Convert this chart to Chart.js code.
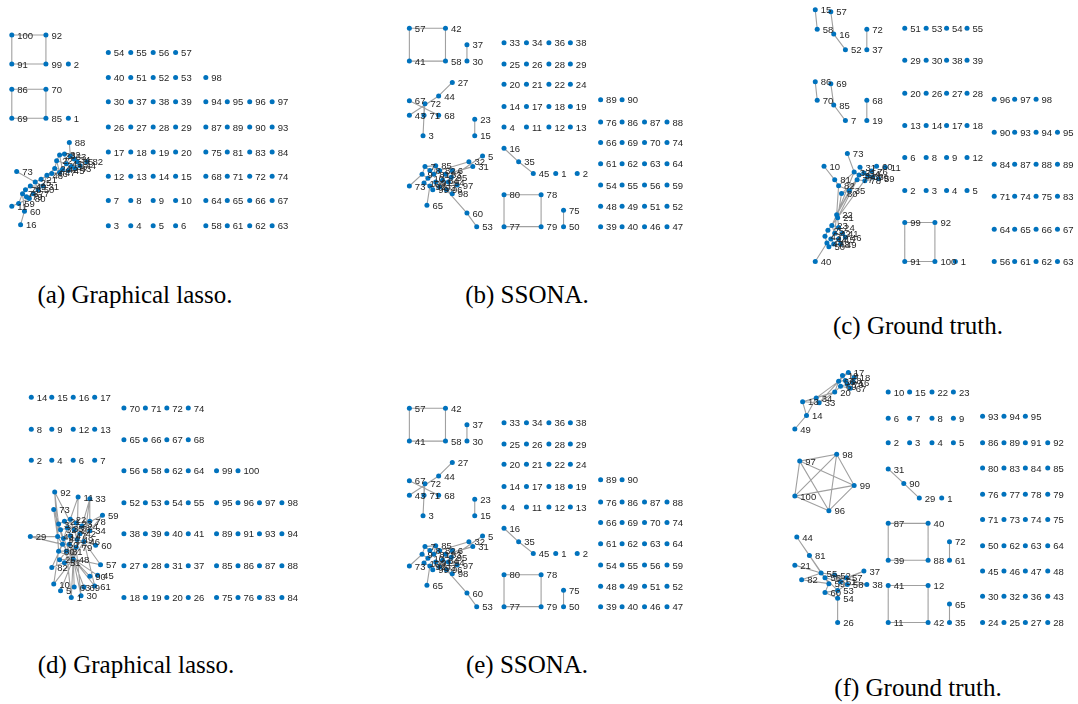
<!DOCTYPE html>
<html>
<head>
<meta charset="utf-8">
<script src="https://cdn.jsdelivr.net/npm/chart.js@4.4.0/dist/chart.umd.min.js"></script>
<style>
  body { margin: 0; background: #fff; width: 1078px; height: 704px; position: relative; overflow: hidden; }
  canvas { position: absolute; }
  .cap { position: absolute; font-family: "Liberation Serif", "Times New Roman", serif; font-size: 25px; color: #000; white-space: nowrap; transform: translate(-50%, -50%); }
</style>
</head>
<body>
<canvas id="pa"></canvas><canvas id="pb"></canvas><canvas id="pc"></canvas>
<canvas id="pd"></canvas><canvas id="pe"></canvas><canvas id="pf"></canvas>
<div class="cap" style="left:135px;top:295px">(a) Graphical lasso.</div>
<div class="cap" style="left:527px;top:295px">(b) SSONA.</div>
<div class="cap" style="left:918px;top:326px">(c) Ground truth.</div>
<div class="cap" style="left:136px;top:665px">(d) Graphical lasso.</div>
<div class="cap" style="left:527px;top:665px">(e) SSONA.</div>
<div class="cap" style="left:918px;top:688px">(f) Ground truth.</div>
<script>
// graph layouts: grid blocks (ids per row, column x, row y) + free nodes [id, x, y] + edges [a, b]

// (a) graphical lasso, setting 1
const aGrid1Ids = [[54,55,56,57],[40,51,52,53],[30,37,38,39],[26,27,28,29],[17,18,19,20],[12,13,14,15],[7,8,9,10],[3,4,5,6]];
const aGrid1X = [107,130,153,176];
const aGrid1Y = [50,76,101,127,153,178,203,229];
const aGrid2Ids = [[98],[94,95,96,97],[87,89,90,93],[75,81,83,84],[68,71,72,74],[64,65,66,67],[58,61,62,63]];
const aGrid2X = [207,229,252,275];
const aGrid2Y = [76,101,127,153,178,203,229];
const aFree = [[100,8,32],[92,43,32],[91,8,62],[99,43,62],[2,66,62],
  [86,8,88],[70,43,88],[69,8,118],[85,43,118],[1,66,118],
  [88,67,143],[82,85,163],[73,13,173],[60,21,214],[16,17,228],[11,8,209],[59,15,206],[79,23,199],
  [22,54,162],[23,57,156],[24,52,170],[32,62,155],[33,68,157],[34,72,160],[35,75,163],[36,69,168],
  [41,64,165],[42,60,171],[43,73,170],[44,78,167],[45,66,172],[46,49,175],[47,57,174],[48,44,177],
  [21,38,181],[25,32,184],[31,40,188],[49,27,188],[50,35,192],[76,22,192],[77,30,196],[78,19,196],[80,26,201]];
const aEdges = [[100,92],[100,91],[92,99],[91,99],[86,70],[86,69],[70,85],[69,85],
  [88,33],[82,35],[82,44],[73,25],[60,78],[16,60],[11,80],[59,78],[79,77],
  [48,46],[46,21],[21,25],[25,31],[31,50],[50,49],[49,76],[76,78],[77,80],[22,23],[23,32],[32,33],
  [33,34],[34,35],[35,36],[36,41],[41,22],[24,42],[42,45],[45,43],[43,44],[44,34],[47,46],[47,24],
  [22,47],[41,42],[36,43],[33,41],[48,21],[48,31],[24,48],[31,49],[25,50],[77,50],[78,80],[59,80],
  [22,24],[32,41],[23,42]];

// (b) and (e) SSONA
const bGrid1Ids = [[33,34,36,38],[25,26,28,29],[20,21,22,24],[14,17,18,19],[4,11,12,13]];
const bGrid1X = [503,526,549,571];
const bGrid1Y = [40,62,83,106,127];
const bGrid2Ids = [[89,90],[76,86,87,88],[66,69,70,74],[61,62,63,64],[54,55,56,59],[48,49,51,52],[39,40,46,47]];
const bGrid2X = [602,624,647,670];
const bGrid2Y = [99,122,143,165,187,209,230];
const bFree = [[57,406,25],[42,443,25],[41,406,59],[58,443,59],[37,465,42],[30,465,59],
  [27,450,81],[44,436,95],[67,406,100],[72,422,103],[43,406,115],[71,421,115],[68,436,115],[3,420,136],
  [23,473,119],[15,473,136],
  [16,503,149],[35,518,163],[45,533,175],[1,556,175],[2,578,175],
  [80,503,197],[78,541,197],[77,503,230],[79,541,230],[75,564,213],[50,564,230],
  [5,481,157],[32,467,163],[31,471,168],[85,433,167],[6,450,172],[73,406,188],[65,424,208],[60,465,216],
  [53,475,230],[98,450,196],[97,455,187],
  [7,422,168],[8,427,172],[9,419,176],[10,425,180],[81,431,176],[82,437,172],[83,443,176],[84,440,182],
  [91,433,184],[92,427,188],[93,437,189],[94,446,184],[95,449,179],[96,444,192],[99,430,192],[100,421,185]];
const bEdges = [[57,42],[57,41],[42,58],[41,58],[37,30],[27,44],[44,43],[67,68],[72,71],[71,3],[23,15],
  [16,35],[35,45],[80,78],[80,77],[78,79],[77,79],[75,50],
  [5,95],[32,82],[31,83],[6,84],[73,9],[65,92],[60,96],[53,60],[98,94],[97,83],[85,81],
  [7,8],[8,81],[81,82],[82,83],[83,95],[9,10],[10,100],[100,92],[92,99],[99,91],[91,93],[93,96],
  [94,84],[84,91],[7,9],[10,81],[85,7],[85,82],[93,84],[95,94],[6,95],[97,94],[98,93]];

// (c) ground truth, setting 1
const cGrid1Ids = [[51,53,54,55],[29,30,38,39],[20,26,27,28],[13,14,17,18],[6,8,9,12],[2,3,4,5]];
const cGrid1X = [904,926,947,968];
const cGrid1Y = [25,58,92,125,158,192];
const cGrid2Ids = [[96,97,98],[90,93,94,95],[84,87,88,89],[71,74,75,83],[64,65,66,67],[56,61,62,63]];
const cGrid2X = [996,1017,1039,1061];
const cGrid2Y = [98,132,165,198,232,265];
const cFree = [[15,812,6],[57,828,8],[58,814,26],[16,831,31],[52,843,47],[72,865,26],[37,865,47],
  [86,812,80],[69,828,82],[70,814,99],[85,831,104],[7,843,120],[68,865,99],[19,865,120],
  [99,904,225],[92,935,225],[91,904,265],[100,935,265],[1,956,265],
  [73,845,154],[10,821,167],[31,858,168],[60,875,167],[11,884,168],[59,877,180],[81,832,181],[82,836,187],
  [35,847,192],[80,839,195],[22,834,217],[21,835,220],[40,812,265],
  [32,852,173],[33,857,176],[34,862,174],[36,866,177],[76,870,172],[77,855,181],[78,863,182],[79,871,178],
  [23,829,228],[24,836,230],[25,825,233],[41,840,236],[42,832,236],[43,822,239],[44,828,242],[45,836,242],
  [46,843,240],[47,824,246],[48,831,247],[49,838,247],[50,826,250]];
const cEdges = [[15,58],[57,16],[16,52],[72,37],[86,70],[69,85],[85,7],[68,19],[99,92],[99,91],[92,100],[91,100],
  [73,32],[10,81],[31,34],[60,76],[11,79],[59,78],[81,82],[82,35],[35,80],[82,32],[35,33],[80,77],
  [32,33],[33,34],[34,36],[36,76],[76,79],[79,78],[78,77],[77,33],[36,78],
  [32,22],[77,21],[35,22],[80,21],[82,22],[36,21],[33,22],[22,23],[21,24],[22,42],[21,25],
  [23,24],[24,41],[41,46],[46,49],[49,48],[48,50],[50,47],[47,43],[43,25],[25,23],[42,44],[44,45],
  [45,41],[42,23],[40,47],[44,48],[45,49]];

// (d) graphical lasso, setting 2
const dGrid0Ids = [[14,15,16,17],[8,9,12,13],[2,4,6,7]];
const dGrid0X = [28,49,71,93];
const dGrid0Y = [394,427,459];
const dGrid1Ids = [[70,71,72,74],[65,66,67,68],[56,58,62,64],[52,53,54,55],[38,39,40,41],[27,28,31,37],[18,19,20,26]];
const dGrid1X = [123,145,167,189];
const dGrid1Y = [405,438,470,503,535,568,601];
const dGrid2Ids = [[99,100],[95,96,97,98],[89,91,93,94],[85,86,87,88],[75,76,83,84]];
const dGrid2X = [218,240,262,285];
const dGrid2Y = [470,503,535,568,601];
const dFree = [[92,52,492],[11,76,497],[33,88,499],[73,51,510],[59,101,516],[29,27,538],[60,94,547],
  [34,88,532],[78,88,522],[46,82,543],[48,71,561],[57,99,567],[90,88,579],[45,96,578],[82,49,570],
  [25,57,562],[51,62,565],[10,51,587],[61,93,589],[30,79,599],[1,69,601],[5,58,594],[63,72,590],[69,82,590],
  [3,56,525],[21,62,522],[22,68,520],[23,74,524],[24,80,527],[32,58,531],[35,65,529],[36,72,531],
  [42,78,535],[43,55,538],[44,61,540],[47,68,537],[49,75,541],[50,60,546],[77,67,546],[79,74,549],
  [80,56,553],[81,64,553]];
const dEdges = [[48,10],[48,5],[48,1],[48,63],[48,30],[48,69],[48,61],[48,90],[48,45],[48,57],[48,82],[48,25],[48,51],
  [92,3],[92,36],[11,22],[11,44],[33,24],[33,78],[73,32],[73,43],[59,34],[29,43],[29,50],[60,46],[92,80],
  [73,81],[11,49],[33,46],[59,24],[78,42],[34,79],
  [3,21],[21,22],[22,23],[23,24],[3,32],[32,35],[35,36],[36,42],[42,24],[43,44],[44,47],[47,49],[49,42],
  [50,77],[77,79],[79,49],[80,81],[81,77],[43,50],[50,80],[3,43],[21,35],[22,36],[23,42],[32,44],[35,47],
  [36,49],[44,50],[47,77],[81,79],[21,36],[22,35],[3,44],
  [48,80],[48,81],[48,77],[48,79],[48,50],[48,46],[48,44],[48,47],[10,80],[82,50],[25,81],[1,81],[30,79],
  [61,46],[60,49],[57,46]];

// (f) ground truth, setting 2
const fGrid1Ids = [[10,15,22,23],[6,7,8,9],[2,3,4,5]];
const fGrid1X = [887,909,932,954];
const fGrid1Y = [389,416,441];
const fGrid2Ids = [[93,94,95],[86,89,91,92],[80,83,84,85],[76,77,78,79],[71,73,74,75],[50,62,63,64],[45,46,47,48],[30,32,36,43],[24,25,27,28]];
const fGrid2X = [984,1006,1028,1051];
const fGrid2Y = [414,441,467,494,520,547,573,599,626];
const fFree = [[31,887,468],[90,903,483],[29,919,498],[1,942,498],
  [87,887,524],[40,928,524],[39,887,562],[88,928,562],[72,950,543],[61,950,562],
  [41,887,588],[12,928,588],[11,887,626],[42,928,626],[65,950,607],[35,950,626],
  [98,834,453],[97,796,460],[99,852,485],[100,791,496],[96,826,511],
  [49,791,427],[14,803,413],[13,799,399],[34,813,395],[33,816,400],[20,832,389],[67,848,385],[17,846,369],
  [18,852,374],[16,851,379],[19,840,372],[66,836,378],[68,843,377],[69,838,383],[70,845,381],
  [44,793,538],[81,806,557],[21,791,567],[82,798,582],[37,862,573],[38,865,587],[55,818,575],[56,822,580],
  [52,832,577],[57,844,580],[58,845,587],[59,826,586],[51,838,584],[53,835,593],[60,822,595],[54,835,601],[26,835,626]];
const fEdges = [[31,90],[90,29],[87,40],[87,39],[40,88],[39,88],[72,61],[41,12],[41,11],[12,42],[11,42],[65,35],
  [96,97],[96,98],[96,99],[96,100],[97,98],[97,99],[97,100],[98,99],[98,100],[99,100],
  [49,14],[14,13],[14,34],[13,33],[13,34],[34,33],[34,20],[33,20],[34,66],[20,66],[20,69],[66,17],[66,68],
  [17,18],[18,16],[16,70],[70,67],[67,69],[19,17],[19,68],[68,16],[69,70],[33,66],[13,20],[19,66],
  [44,55],[44,59],[81,55],[81,56],[21,55],[82,55],[82,59],[37,57],[37,51],[38,58],[38,52],[55,56],[55,52],
  [52,57],[57,58],[56,59],[59,60],[60,53],[53,54],[54,26],[51,53],[52,51],[56,53],[58,53],[57,51],[55,59],
  [60,54],[52,58],[56,51]];

function collect(grids, free) {
  const pts = [];
  grids.forEach(([ids, xs, ys]) => ids.forEach((row, r) => row.forEach((id, c) => pts.push({ id: id, x: xs[c], y: ys[r] }))));
  free.forEach(([id, x, y]) => pts.push({ id: id, x: x, y: y }));
  return pts;
}

function edgeData(pts, edges) {
  const byId = {};
  pts.forEach((p) => (byId[p.id] = p));
  const out = [];
  edges.forEach(([a, b]) => {
    if (!byId[a] || !byId[b]) return;
    out.push({ x: byId[a].x, y: byId[a].y }, { x: byId[b].x, y: byId[b].y }, { x: null, y: null });
  });
  return out;
}

const nodeLabels = {
  id: "nodeLabels",
  afterDatasetsDraw(chart) {
    const ctx = chart.ctx, sx = chart.scales.x, sy = chart.scales.y;
    ctx.save();
    ctx.font = '9.5px "Liberation Sans", Arial, sans-serif';
    ctx.fillStyle = "#262626";
    ctx.textBaseline = "middle";
    chart.data.datasets[0].data.forEach((p) => {
      ctx.fillText(String(p.id), sx.getPixelForValue(p.x) + 5.5, sy.getPixelForValue(p.y) + 1);
    });
    ctx.restore();
  },
};

// box = where the canvas sits on the page; shiftY moves a reused layout down
function drawPanel(id, box, shiftY, pts, edges) {
  const cv = document.getElementById(id);
  cv.width = box.w;
  cv.height = box.h;
  cv.style.left = box.left + "px";
  cv.style.top = box.top + "px";
  new Chart(cv, {
    type: "scatter",
    data: {
      datasets: [
        { data: pts, pointRadius: 2.5, pointBackgroundColor: "#0072BD", pointBorderWidth: 0, clip: false },
        { data: edgeData(pts, edges), showLine: true, spanGaps: false, pointRadius: 0, borderColor: "#a0a0a0", borderWidth: 1.1, clip: false },
      ],
    },
    options: {
      responsive: false,
      animation: false,
      devicePixelRatio: 1,
      layout: { padding: 0 },
      plugins: { legend: { display: false }, tooltip: { enabled: false } },
      scales: {
        x: { type: "linear", display: false, min: box.left, max: box.left + box.w },
        y: { type: "linear", display: false, reverse: true, min: box.top - shiftY, max: box.top - shiftY + box.h },
      },
    },
    plugins: [nodeLabels],
  });
}

const aPts = collect([[aGrid1Ids, aGrid1X, aGrid1Y], [aGrid2Ids, aGrid2X, aGrid2Y]], aFree);
const bPts = collect([[bGrid1Ids, bGrid1X, bGrid1Y], [bGrid2Ids, bGrid2X, bGrid2Y]], bFree);
const cPts = collect([[cGrid1Ids, cGrid1X, cGrid1Y], [cGrid2Ids, cGrid2X, cGrid2Y]], cFree);
const dPts = collect([[dGrid0Ids, dGrid0X, dGrid0Y], [dGrid1Ids, dGrid1X, dGrid1Y], [dGrid2Ids, dGrid2X, dGrid2Y]], dFree);
const fPts = collect([[fGrid1Ids, fGrid1X, fGrid1Y], [fGrid2Ids, fGrid2X, fGrid2Y]], fFree);

drawPanel("pa", { left: 0, top: 0, w: 320, h: 250 }, 0, aPts, aEdges);
drawPanel("pb", { left: 380, top: 0, w: 330, h: 250 }, 0, bPts, bEdges);
drawPanel("pc", { left: 785, top: 0, w: 293, h: 280 }, 0, cPts, cEdges);
drawPanel("pd", { left: 0, top: 370, w: 320, h: 250 }, 0, dPts, dEdges);
drawPanel("pe", { left: 380, top: 380, w: 330, h: 250 }, 380, bPts, bEdges);
drawPanel("pf", { left: 785, top: 355, w: 293, h: 290 }, 0, fPts, fEdges);
</script>
</body>
</html>
